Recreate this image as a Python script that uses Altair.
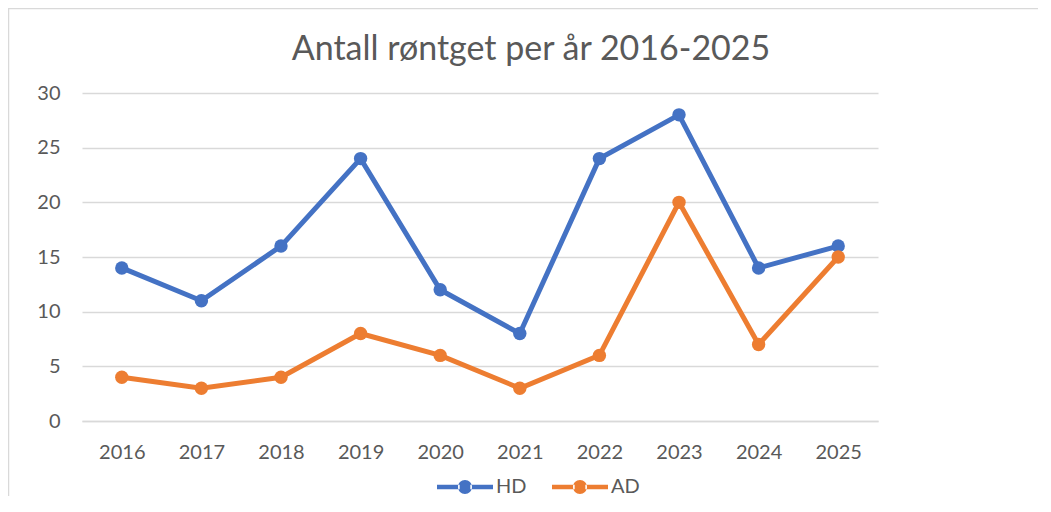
import altair as alt
import pandas as pd

years = ["2016", "2017", "2018", "2019", "2020", "2021", "2022", "2023", "2024", "2025"]
hd = [14, 11, 16, 24, 12, 8, 24, 28, 14, 16]
ad = [4, 3, 4, 8, 6, 3, 6, 20, 7, 15]
series = ["HD", "AD"]
colors = ["#4472C4", "#ED7D31"]
title_text = "Antall røntget per år 2016-2025"

rows = []
for y, v in zip(years, hd):
    rows.append({"År": y, "Serie": "HD", "Antall": v})
for y, v in zip(years, ad):
    rows.append({"År": y, "Serie": "AD", "Antall": v})
df = pd.DataFrame(rows)

FONT = "Lato"
GRAY = "#595959"
GRID = "#d9d9d9"

legend_path = ("M -1 -0.08 L -0.19 -0.08 L -0.19 0.08 L -1 0.08 Z "
               "M 0.19 -0.08 L 1 -0.08 L 1 0.08 L 0.19 0.08 Z "
               "M -0.25 0 A 0.25 0.25 0 1 0 0.25 0 A 0.25 0.25 0 1 0 -0.25 0 Z")

x_enc = alt.X("År:N", sort=years, title=None,
              scale=alt.Scale(type="point", padding=0.5),
              axis=alt.Axis(labelAngle=0, ticks=False, domain=True, domainColor=GRID,
                            domainWidth=1.5, grid=False, labelFont=FONT, labelFontSize=20,
                            labelColor=GRAY, labelPadding=21))
y_enc = alt.Y("Antall:Q", title=None,
              scale=alt.Scale(domain=[0, 30], nice=False),
              axis=alt.Axis(values=[0, 5, 10, 15, 20, 25, 30], ticks=False, domain=False,
                            grid=True, gridColor=GRID, gridWidth=1.5, labelFont=FONT,
                            labelFontSize=20, labelColor=GRAY, labelPadding=22))
color_enc = alt.Color("Serie:N", sort=series,
                      scale=alt.Scale(domain=series, range=colors),
                      legend=alt.Legend(title=None, orient="none", direction="horizontal",
                                        legendX=355, legendY=366,
                                        symbolType=legend_path, symbolSize=3136,
                                        symbolStrokeWidth=0, symbolOpacity=1,
                                        labelFont=FONT, labelFontSize=20, labelColor=GRAY,
                                        labelOffset=3, columnPadding=25, padding=0))

lines = alt.Chart(df).mark_line(strokeWidth=5).encode(
    x=x_enc, y=y_enc, color=color_enc, detail="Serie:N"
)
points = alt.Chart(df).mark_point(filled=True, size=180, opacity=1).encode(
    x=x_enc, y=y_enc, color=alt.Color("Serie:N", sort=series,
                                      scale=alt.Scale(domain=series, range=colors),
                                      legend=None)
)

border_df = pd.DataFrame({"k": [0]})
border = alt.Chart(border_df).mark_rect(fill=None, stroke=GRID, strokeWidth=1.5).encode(
    x=alt.value(-73.5), y=alt.value(-84.5), x2=alt.value(1200), y2=alt.value(700)
)

chart = alt.layer(border, lines, points).properties(
    width=796, height=328,
    autosize=alt.AutoSizeParams(type="none"),
    padding={"left": 74, "top": 85, "right": 160, "bottom": 75},
    title=alt.TitleParams(title_text, font=FONT, fontSize=34, fontWeight="normal",
                          color=GRAY, anchor="middle", frame="group", dx=51,
                          offset=0, dy=93, baseline="bottom"),
    background="white",
).configure_view(stroke=None)

chart.save("out.html", embed_options={"renderer": "svg", "actions": False})
